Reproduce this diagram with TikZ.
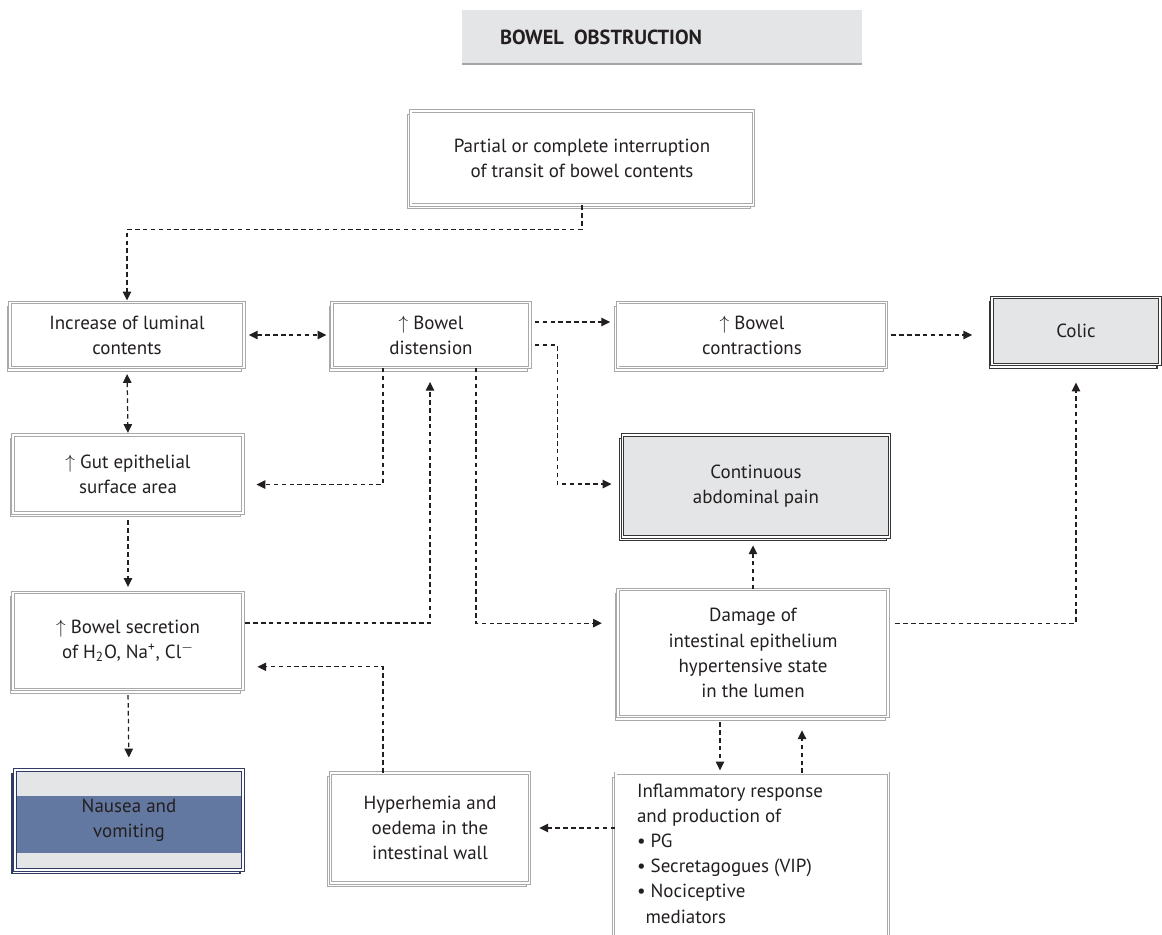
\documentclass[tikz,border=0pt]{standalone}
\usepackage{fontspec}
\setmainfont{PT Sans}
\usetikzlibrary{arrows.meta,calc}

\definecolor{boxgray}{HTML}{A9A9AB}
\definecolor{panel}{HTML}{E4E5E6}
\definecolor{darkline}{HTML}{353535}
\definecolor{navy}{HTML}{2E3B63}
\definecolor{band}{HTML}{6278A0}
\definecolor{ink}{HTML}{231F20}
\definecolor{rulegray}{HTML}{A6A6A8}

\tikzset{
  box/.style={draw=boxgray, line width=0.45pt, double=white, double distance=1.1pt,
    fill=white, align=center, text=ink, font=\fontsize{10.8}{14.3}\selectfont,
    preaction={draw=boxgray, line width=0.45pt,
      transform canvas={shift={(-1.7pt,-2.2pt)}}}},
  greybox/.style={draw=darkline, line width=0.6pt, double=white, double distance=0.8pt,
    fill=panel, align=center, text=ink, font=\fontsize{10.8}{14.3}\selectfont,
    preaction={draw=darkline, line width=0.6pt,
      transform canvas={shift={(-1.7pt,-2.2pt)}}}},
  bluebox/.style={draw=navy, line width=0.7pt, double=white, double distance=0.8pt,
    fill=panel, align=center, text=ink, font=\fontsize{10.8}{14.3}\selectfont,
    preaction={draw=navy, line width=0.7pt,
      transform canvas={shift={(-1.7pt,-2.2pt)}}},
    path picture={\fill[band] ([yshift=-14.7pt]path picture bounding box.north west)
      rectangle ([yshift=9.6pt]path picture bounding box.south east);}},
  titlebar/.style={fill=panel, minimum height=1.08cm, text width=6.48cm, inner xsep=0.76cm,
    align=left, text=ink, font=\fontsize{11.6}{13}\selectfont\bfseries},
  flow/.style={draw=ink, line width=0.7pt, dash pattern=on 2.6pt off 1.9pt,
    -{Triangle[length=5pt,width=4.8pt]}},
  flowboth/.style={flow, {Triangle[length=5pt,width=4.8pt]}-{Triangle[length=5pt,width=4.8pt]}}
}

\begin{document}
\begin{tikzpicture}[x=0.02cm, y=-0.02cm]
\clip (0,0) rectangle (1162,934);

% title bar
\node[titlebar] (title) at (662,37) {BOWEL\ \,OBSTRUCTION};
\draw[rulegray, line width=1.1pt] (title.south west) -- (title.south east);

% boxes
\node[box, minimum width=6.86cm, minimum height=1.88cm] (partial) at (582,158)
  {Partial or complete interruption\\of transit of bowel contents};
\node[box, minimum width=4.68cm, minimum height=1.3cm] (increase) at (127,335)
  {Increase of luminal\\contents};
\node[box, minimum width=3.96cm, minimum height=1.3cm] (distension) at (431,335)
  {$\uparrow$ Bowel\\distension};
\node[box, minimum width=5.38cm, minimum height=1.3cm] (contractions) at (752,335)
  {$\uparrow$ Bowel\\contractions};
\node[greybox, minimum width=3.36cm, minimum height=1.34cm] (colic) at (1076,331)
  {Colic};
\node[box, minimum width=4.6cm, minimum height=1.56cm] (gut) at (128,474)
  {$\uparrow$ Gut epithelial\\surface area};
\node[greybox, minimum width=5.34cm, minimum height=2.04cm] (pain) at (756,486)
  {Continuous\\abdominal pain};
\node[box, minimum width=4.6cm, minimum height=1.94cm] (secretion) at (128,641)
  {$\uparrow$ Bowel secretion\\of H\textsubscript{2}O, Na\textsuperscript{+}, Cl\textsuperscript{$-$}};
\node[box, minimum width=5.4cm, minimum height=2.54cm] (damage) at (753,653)
  {Damage of\\intestinal epithelium\\hypertensive state\\in the lumen};
\node[bluebox, minimum width=4.56cm, minimum height=2cm] (nausea) at (129,820)
  {Nausea and\\vomiting};
\node[box, minimum width=3.98cm, minimum height=2.2cm] (hyperhemia) at (430,828)
  {Hyperhemia and\\oedema in the\\intestinal wall};
\node[box, anchor=north, minimum width=5.46cm, inner ysep=6pt] (inflammatory) at (752,773)
  {\begin{minipage}[t][86pt][t]{4.6cm}\raggedright
   Inflammatory response\\and production of\\\textbullet\ PG\\
   \textbullet\ Secretagogues (VIP)\\\textbullet\ Nociceptive\\\hspace*{0.45em}mediators
   \end{minipage}};

% connectors
\draw[flow, shorten >=1pt] (partial.south) -- ++(0,24) -| (increase.north);
\draw[flowboth, shorten <=2.5pt, shorten >=3pt] (increase.east) -- (distension.west);
\draw[flowboth, shorten <=3.5pt, shorten >=1pt] (increase.south) -- (gut.north);
\draw[flow, shorten <=2.5pt, shorten >=4pt]
  ([yshift=7.4pt]distension.east) -- ([yshift=7.4pt]contractions.west);
\draw[flow, shorten <=2.5pt, shorten >=6pt]
  ([yshift=-5.7pt]distension.east) -- ++(27,0) |- ([yshift=1.1pt]pain.west);
\draw[flow, shorten >=7.5pt] (distension.south -| 383,0) |- ([yshift=-6pt]gut.east);
\draw[flow, shorten >=9pt] (distension.south -| 476,0) |- ([yshift=17pt]damage.west);
\draw[flow, shorten <=1pt, shorten >=8pt]
  ([yshift=10.2pt]secretion.east) -| (distension.south -| 430,0);
\draw[flow, shorten <=4pt, shorten >=3pt] (gut.south) -- (secretion.north);
\draw[flow, shorten <=3pt, shorten >=6.8pt] (secretion.south) -- (nausea.north);
\draw[flow, shorten <=2.5pt, shorten >=11pt] (contractions.east) -- (colic.west |- contractions.east);
\draw[flow, shorten <=4pt, shorten >=10pt] ([yshift=17pt]damage.east) -| (colic.south);
\draw[flow, shorten >=4.5pt] (damage.north) -- (damage.north |- pain.south);
\draw[flow, shorten <=3pt, shorten >=1.5pt] (damage.south -| 720,0) -- (inflammatory.north -| 720,0);
\draw[flow, shorten >=7.6pt] (inflammatory.north -| 802,0) -- (damage.south -| 802,0);
\draw[flow, shorten >=5.4pt] (inflammatory.west |- hyperhemia.east) -- (hyperhemia.east);
\draw[flow, shorten >=8pt] (hyperhemia.north -| 383,0) |- ([yshift=-14.7pt]secretion.east);
\end{tikzpicture}
\end{document}
